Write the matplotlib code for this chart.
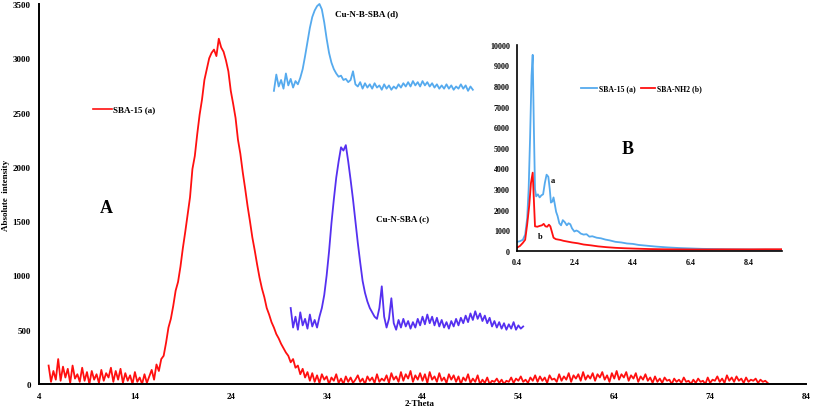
import numpy as np
import matplotlib
matplotlib.use("Agg")
import matplotlib.pyplot as plt

plt.rcParams["font.family"] = ["Liberation Serif", "DejaVu Serif"]
plt.rcParams["font.weight"] = "bold"

# --- main panel (A): wide-angle XRD, step 0.25 deg 2-theta ---
sba15_start = 5.0
sba15_wide = [
    # 5.00 - 16.00 baseline noise
    170, 20, 120, 40, 230, 30, 160, 60, 140, 10, 170, 50, 90, 20, 150, 30,
    110, 0, 120, 40, 90, 10, 130, 30, 100, 60, 150, 20, 120, 40, 140, 10,
    100, 30, 80, 0, 110, 20, 60, 0, 90, 10, 70, 130, 40,
    # 16.25 - 32.00 broad amorphous silica peak
    180, 120, 230, 260, 380, 520, 600, 720, 860, 940, 1080, 1250, 1400, 1560,
    1720, 1980, 2100, 2300, 2480, 2620, 2800, 2900, 3000, 3050, 3080, 3020,
    3180, 3100, 3060, 2980, 2880, 2700, 2580, 2450, 2250, 2120, 1950, 1800,
    1640, 1500, 1350, 1230, 1100, 980, 880, 800, 700, 640, 570, 520, 460, 420,
    370, 330, 290, 260, 200, 230, 150, 170, 90, 140, 60, 110,
    # 32.25 - 80.00 baseline
    30, 100, 20, 80, 10, 90, 40, 70, 0, 60, 30, 90, 10, 50, 0, 70,
    20, 60, 10, 40, 80, 20, 50, 0, 70, 30, 60, 10, 90, 20, 50, 30,
    80, 10, 100, 40, 70, 20, 110, 30, 90, 50, 120, 20, 80, 40, 100, 30,
    90, 10, 110, 40, 70, 20, 100, 30, 60, 10, 90, 40, 80, 20, 70, 0,
    60, 30, 90, 10, 50, 20, 80, 0, 40, 10, 60, 0, 30, 20, 50, 10,
    40, 0, 30, 20, 60, 10, 50, 30, 70, 20, 40, 10, 60, 30, 80, 20,
    70, 30, 60, 10, 80, 40, 50, 20, 90, 30, 70, 40, 100, 20, 80, 50,
    90, 30, 110, 40, 80, 50, 100, 30, 90, 60, 110, 40, 80, 20, 100, 50,
    120, 40, 90, 60, 110, 30, 80, 50, 100, 20, 70, 40, 90, 30, 60, 10,
    70, 20, 50, 10, 60, 30, 40, 0, 50, 20, 40, 10, 60, 20, 30, 0,
    40, 10, 50, 20, 30, 0, 60, 10, 40, 30, 70, 20, 50, 10, 80, 30,
    60, 20, 70, 30, 50, 10, 60, 20, 40, 30, 50, 10, 40, 20, 30, 10,
]

cu_n_sba_start = 30.25
cu_n_sba = [
    700, 520, 620, 500, 660, 540, 600, 510, 640, 530, 590, 520, 620, 700,
    820, 1000, 1220, 1480, 1700, 1900, 2050, 2180, 2150, 2200, 2050, 1880,
    1700, 1500, 1300, 1120, 950, 840, 760, 700, 660, 620, 600, 700, 900, 620,
    520, 600, 790, 560, 500, 590, 520, 600, 530, 580, 510, 570, 520, 600,
    540, 620, 550, 640, 560, 620, 540, 610, 530, 590, 520, 570, 510, 580,
    530, 600, 540, 610, 560, 630, 570, 650, 590, 670, 600, 650, 580, 630,
    560, 610, 530, 580, 520, 570, 510, 560, 500, 550, 510, 570, 500, 540,
    510, 530,
]

cu_n_b_sba_start = 28.5
cu_n_b_sba = [
    2700, 2850, 2740, 2800, 2720, 2860, 2750, 2810, 2730, 2790, 2760, 2820,
    2900, 3020, 3150, 3280, 3380, 3440, 3480, 3500, 3450, 3330, 3180, 3050,
    2960, 2900, 2860, 2830, 2840, 2800, 2810, 2780, 2800, 2880, 2760, 2740,
    2780, 2720, 2770, 2730, 2760, 2720, 2770, 2730, 2750, 2710, 2760, 2720,
    2750, 2710, 2740, 2720, 2760, 2730, 2770, 2740, 2780, 2740, 2790, 2750,
    2780, 2740, 2790, 2750, 2780, 2740, 2770, 2730, 2760, 2720, 2750, 2720,
    2760, 2720, 2750, 2710, 2740, 2720, 2760, 2720, 2750, 2700, 2740, 2710,
]
step = 0.25

# --- inset panel (B): low-angle XRD ---
low_theta_a = [0.40, 0.50, 0.60, 0.68, 0.75, 0.80, 0.85, 0.90, 0.94, 0.98,
               1.02, 1.06, 1.12, 1.18, 1.24, 1.30, 1.36, 1.42, 1.48, 1.53,
               1.57, 1.62, 1.66, 1.70, 1.75, 1.80, 1.86, 1.92, 1.98, 2.05,
               2.12, 2.18, 2.24, 2.30, 2.38, 2.45, 2.52, 2.60, 2.70, 2.80,
               2.90, 3.00, 3.15, 3.30, 3.45, 3.60, 3.80, 4.00, 4.20, 4.40,
               4.60, 4.90, 5.20, 5.60, 6.00, 6.40, 6.80, 7.20, 7.60, 8.00,
               8.40, 8.80, 9.20, 9.56]
low_sba15 = [450, 480, 550, 800, 1600, 3000, 5500, 8500, 9500, 6000,
             3000, 2650, 2750, 2600, 2700, 2750, 3300, 3700, 3600, 3000,
             2350, 2400, 2600, 2300, 1900, 1700, 1350, 1250, 1500, 1400,
             1250, 1350, 1300, 1100, 950, 1000, 950, 850, 800, 820,
             700, 720, 650, 620, 560, 520, 450, 420, 370, 350,
             300, 260, 220, 180, 150, 130, 110, 100, 90, 85,
             80, 75, 70, 70]

low_theta_b = [0.40, 0.50, 0.60, 0.68, 0.75, 0.82, 0.88, 0.94, 0.98, 1.02,
               1.10, 1.18, 1.26, 1.32, 1.38, 1.44, 1.50, 1.55, 1.60, 1.66,
               1.74, 1.82, 1.90, 2.00, 2.15, 2.30, 2.50, 2.70, 2.95, 3.20,
               3.50, 3.80, 4.10, 4.50, 5.00, 5.50, 6.00, 6.50, 7.00, 7.50,
               8.00, 8.50, 9.00, 9.56]
low_sba_nh2 = [170, 250, 400, 550, 1300, 2200, 3300, 3800, 2500, 1200,
               1180, 1220, 1250, 1320, 1200, 1180, 1280, 1200, 950, 650,
               580, 560, 540, 500, 460, 420, 380, 320, 280, 230,
               190, 160, 140, 120, 100, 90, 85, 80, 80, 85,
               85, 85, 90, 90]

main_xticks = [4, 14, 24, 34, 44, 54, 64, 74, 84]
main_yticks = [0, 500, 1000, 1500, 2000, 2500, 3000, 3500]
inset_xticks = [0.4, 2.4, 4.4, 6.4, 8.4]
inset_yticks = list(range(0, 10001, 1000))

RED = "#ff1010"
VIOLET = "#5530f0"
LIGHT_BLUE = "#55aaee"


def grid_x(start, values):
    return start + step * np.arange(len(values))


fig = plt.figure(figsize=(8.13, 4.14), dpi=100)
ax = fig.add_axes([0.048, 0.070, 0.9434, 0.918])

ax.plot(grid_x(sba15_start, sba15_wide), sba15_wide, color=RED, linewidth=1.3)
ax.plot(grid_x(cu_n_sba_start, cu_n_sba), cu_n_sba, color=VIOLET, linewidth=1.3)
ax.plot(grid_x(cu_n_b_sba_start, cu_n_b_sba), cu_n_b_sba, color=LIGHT_BLUE,
        linewidth=1.3, clip_on=False)

ax.set_xlim(4, 84)
ax.set_ylim(0, 3500)
ax.set_xticks(main_xticks)
ax.set_yticks(main_yticks)
ax.tick_params(length=0, labelsize=6.5, pad=6)
for lab in ax.get_xticklabels() + ax.get_yticklabels():
    lab.set_fontweight("bold")
for side in ("top", "right"):
    ax.spines[side].set_visible(False)
for side in ("left", "bottom"):
    ax.spines[side].set_linewidth(1.4)
    ax.spines[side].set_color("black")

ax.text(11.0, 1630, "A", fontsize=13, fontweight="bold", ha="center", va="center")
ax.plot([9.63, 11.61], [2533, 2533], color=RED, linewidth=1.2)
ax.text(11.72, 2533, "SBA-15 (a)", fontsize=6.5, fontweight="bold", va="center")
ax.text(41.96, 1529, "Cu-N-SBA (c)", fontsize=6.5, fontweight="bold",
        ha="center", va="center")
ax.text(38.2, 3417, "Cu-N-B-SBA (d)", fontsize=6.5, fontweight="bold",
        ha="center", va="center")

fig.text(420 / 813, 1 - 404 / 414, "2-Theta", fontsize=6.5, fontweight="bold",
         ha="center", va="center")
fig.text(6 / 813, 1 - 195 / 414, "Absolute  intensity", fontsize=6.5,
         fontweight="bold", rotation=90, ha="center", va="center")

# inset
axi = fig.add_axes([0.636, 0.391, 0.326, 0.499])
axi.patch.set_alpha(0)
axi.plot(low_theta_a, low_sba15, color=LIGHT_BLUE, linewidth=1.3)
axi.plot(low_theta_b, low_sba_nh2, color=RED, linewidth=1.3)
axi.set_xlim(0.4, 9.56)
axi.set_ylim(0, 10000)
axi.set_xticks(inset_xticks)
axi.set_xticklabels(["0.4", "2.4", "4.4", "6.4", "8.4"])
axi.set_yticks(inset_yticks)
axi.tick_params(length=0, labelsize=5.8, pad=5)
for lab in axi.get_xticklabels() + axi.get_yticklabels():
    lab.set_fontweight("bold")
for side in ("top", "right"):
    axi.spines[side].set_visible(False)
for side in ("left", "bottom"):
    axi.spines[side].set_linewidth(1.2)
    axi.spines[side].set_color("black")

axi.text(4.23, 4950, "B", fontsize=13, fontweight="bold", ha="center", va="center")
axi.text(1.65, 3440, "a", fontsize=6, fontweight="bold", ha="center", va="center")
axi.text(1.2, 730, "b", fontsize=6, fontweight="bold", ha="center", va="center")
axi.plot([2.6, 3.15], [7900, 7900], color=LIGHT_BLUE, linewidth=1.3)
axi.text(3.22, 7900, "SBA-15 (a)", fontsize=5.6, fontweight="bold", va="center")
axi.plot([4.68, 5.18], [7900, 7900], color=RED, linewidth=1.3)
axi.text(5.25, 7900, "SBA-NH2 (b)", fontsize=5.6, fontweight="bold", va="center")

fig.savefig("out.png", dpi=100)
